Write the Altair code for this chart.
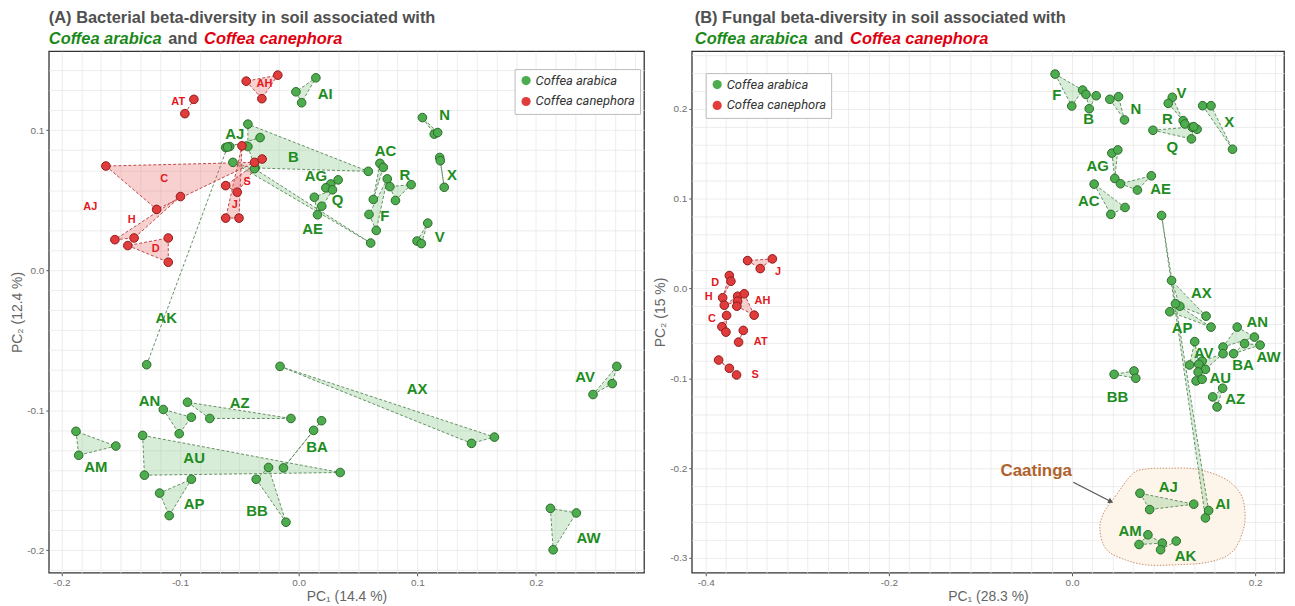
import altair as alt
import pandas as pd

FONT = "Liberation Sans, Arial, Helvetica, sans-serif"
LEGFONT = "Liberation Sans Narrow, Roboto, Liberation Sans, sans-serif"
SPECIES = ["Coffea arabica", "Coffea canephora"]
FILL = ["#4dac4d", "#e23b3b"]
EDGE = ["#2b6b2b", "#8c1c1c"]
GREEN_TXT = "#1e8c1e"
RED_TXT = "#e4181c"

# ---------------- Panel A: bacterial beta-diversity ----------------
A_green = {
    "AI": [(0.0145, 0.1374), (-0.0023, 0.1274), (0.0025, 0.1196)],
    "AJ": [(-0.0615, 0.0876), (-0.0581, 0.0883), (-0.0325, 0.0947)],
    "B": [(-0.0428, 0.1043), (0.0587, 0.0706), (-0.0367, 0.0730), (-0.0428, 0.0883)],
    "AK": [(-0.1281, -0.0675), (-0.0600, 0.0880)],
    "AE": [(-0.0554, 0.0770), (-0.0373, 0.0725), (0.0607, 0.0194)],
    "AG": [(0.0243, 0.0592), (0.0271, 0.0616), (0.0333, 0.0645), (0.0229, 0.0588)],
    "Q": [(0.0132, 0.0521), (0.0285, 0.0574), (0.0195, 0.0457), (0.0159, 0.0396)],
    "AC": [(0.0685, 0.0763), (0.0713, 0.0734), (0.0629, 0.0505)],
    "F": [(0.0593, 0.0398), (0.0654, 0.0284), (0.0747, 0.0652)],
    "R": [(0.0769, 0.0597), (0.0948, 0.0611), (0.0816, 0.0498)],
    "N": [(0.1043, 0.1090), (0.1143, 0.0972), (0.1172, 0.0983)],
    "X": [(0.1189, 0.0805), (0.1194, 0.0782), (0.1227, 0.0592)],
    "V": [(0.1088, 0.0336), (0.0998, 0.0208), (0.1034, 0.0190)],
    "AX": [(-0.0157, -0.0687), (0.1457, -0.1237), (0.1650, -0.1192)],
    "AN": [(-0.1141, -0.0995), (-0.0904, -0.1050), (-0.1007, -0.1168)],
    "AZ": [(-0.0937, -0.0943), (-0.0749, -0.1059), (-0.0065, -0.1059)],
    "AM": [(-0.1877, -0.1151), (-0.1541, -0.1256), (-0.1854, -0.1322)],
    "AU": [(-0.1315, -0.1180), (-0.1300, -0.1464), (0.0350, -0.1445)],
    "AP": [(-0.0904, -0.1493), (-0.1172, -0.1592), (-0.1091, -0.1753)],
    "BB": [(-0.0254, -0.1409), (-0.0358, -0.1493), (-0.0107, -0.1800)],
    "BA": [(0.0193, -0.1075), (0.0126, -0.1144), (-0.0128, -0.1412)],
    "AV": [(0.2682, -0.0687), (0.2643, -0.0810), (0.2481, -0.0888)],
    "AW": [(0.2122, -0.1701), (0.2341, -0.1734), (0.2145, -0.1997)],
}
A_red = {
    "AH": [(-0.0442, 0.1350), (-0.0176, 0.1393), (-0.0310, 0.1225)],
    "AT": [(-0.0883, 0.1220), (-0.0959, 0.1118)],
    "C": [(-0.1625, 0.0744), (-0.1197, 0.0434), (-0.0372, 0.0770)],
    "H": [(-0.1549, 0.0218), (-0.1387, 0.0230), (-0.0996, 0.0526)],
    "D": [(-0.1440, 0.0176), (-0.1099, 0.0230), (-0.1099, 0.0057)],
    "J": [(-0.0478, 0.0888), (-0.0615, 0.0372), (-0.0503, 0.0372)],
    "S": [(-0.0615, 0.0604), (-0.0518, 0.0557), (-0.0308, 0.0794)],
}
A_green_labels = {
    "AI": (0.0224, 0.1260), "AJ": (-0.0539, 0.0976), "B": (-0.0044, 0.0805),
    "AG": (0.0145, 0.0670), "Q": (0.0327, 0.0498), "AE": (0.0117, 0.0296),
    "AC": (0.0732, 0.0853), "R": (0.0895, 0.0680), "F": (0.0727, 0.0386),
    "N": (0.1231, 0.1107), "X": (0.1292, 0.0680), "V": (0.1189, 0.0237),
    "AK": (-0.1116, -0.0341), "AN": (-0.1258, -0.0936), "AZ": (-0.0497, -0.0947),
    "AM": (-0.1709, -0.1405), "AU": (-0.0881, -0.1338), "AP": (-0.0881, -0.1670),
    "BB": (-0.0352, -0.1718), "BA": (0.0154, -0.1263), "AX": (0.0998, -0.0848),
    "AV": (0.2414, -0.0763), "AW": (0.2444, -0.1914),
}
A_red_labels = {
    "AH": (-0.0288, 0.1327), "AT": (-0.1015, 0.1201), "C": (-0.1133, 0.0654),
    "AJ": (-0.1756, 0.0450), "H": (-0.1407, 0.0355), "D": (-0.1206, 0.0154),
    "S": (-0.0434, 0.0628), "J": (-0.0539, 0.0462),
}

# ---------------- Panel B: fungal beta-diversity ----------------
B_green = {
    "F": [(-0.0185, 0.2389), (-0.0003, 0.2033), (0.0116, 0.2211)],
    "B": [(0.0152, 0.2163), (0.0264, 0.2148), (0.0188, 0.2003)],
    "N": [(0.0413, 0.2108), (0.0508, 0.2137), (0.0573, 0.1878)],
    "V": [(0.1095, 0.2130), (0.1051, 0.2063), (0.1214, 0.1870)],
    "R": [(0.1232, 0.1833), (0.1312, 0.1797), (0.1366, 0.1774)],
    "Q": [(0.0884, 0.1763), (0.1304, 0.1667), (0.1329, 0.1803)],
    "X": [(0.1427, 0.2037), (0.1518, 0.2037), (0.1753, 0.1552)],
    "AG": [(0.0435, 0.1508), (0.0500, 0.1544), (0.0467, 0.1226)],
    "AE": [(0.0529, 0.1167), (0.0714, 0.1097), (0.0866, 0.1256)],
    "AC": [(0.0242, 0.1163), (0.0424, 0.0826), (0.0579, 0.0903)],
    "AI": [(0.0978, 0.0814), (0.1457, -0.2556), (0.1492, -0.2474)],
    "AX": [(0.1087, 0.0089), (0.1177, -0.0197), (0.1464, -0.0308)],
    "AP": [(0.1130, -0.0170), (0.1068, -0.0259), (0.1518, -0.0430)],
    "AN": [(0.1804, -0.0430), (0.1992, -0.0541), (0.1649, -0.0652)],
    "AW": [(0.2054, -0.0630), (0.1884, -0.0614), (0.1764, -0.0726)],
    "BA": [(0.1649, -0.0726), (0.1421, -0.0808), (0.1457, -0.0900)],
    "AV": [(0.1340, -0.0592), (0.1384, -0.0844), (0.1283, -0.0852)],
    "AU": [(0.1377, -0.0930), (0.1355, -0.1030), (0.1421, -0.1011)],
    "AZ": [(0.1645, -0.1111), (0.1536, -0.1208), (0.1584, -0.1319)],
    "BB": [(0.0460, -0.0956), (0.0677, -0.0919), (0.0696, -0.1000)],
    "AJ": [(0.0742, -0.2281), (0.0848, -0.2463), (0.1329, -0.2403)],
    "AM": [(0.0829, -0.2744), (0.0732, -0.2852), (0.0986, -0.2837)],
    "AK": [(0.0967, -0.2911), (0.1138, -0.2814)],
}
B_red = {
    "J": [(-0.3543, 0.0311), (-0.3272, 0.0330), (-0.3405, 0.0222)],
    "D": [(-0.3742, 0.0144), (-0.3725, 0.0081), (-0.3815, -0.0103)],
    "H": [(-0.3797, -0.0186), (-0.3652, -0.0086), (-0.3652, -0.0141)],
    "AH": [(-0.3660, -0.0197), (-0.3579, -0.0059), (-0.3471, -0.0297)],
    "C": [(-0.3772, -0.0300), (-0.3823, -0.0426), (-0.3779, -0.0486)],
    "AT": [(-0.3590, -0.0467), (-0.3641, -0.0597)],
    "S": [(-0.3859, -0.0797), (-0.3742, -0.0889), (-0.3663, -0.0963)],
}
B_green_labels = {
    "F": (-0.0166, 0.2156), "B": (0.0182, 0.1886), "N": (0.0696, 0.2000),
    "V": (0.1196, 0.2181), "R": (0.1040, 0.1886), "Q": (0.1095, 0.1581),
    "X": (0.1717, 0.1852), "AG": (0.0279, 0.1370), "AE": (0.0967, 0.1108),
    "AC": (0.0182, 0.0978), "AX": (0.1413, -0.0048), "AP": (0.1203, -0.0444),
    "AN": (0.2022, -0.0374), "AV": (0.1438, -0.0714), "AW": (0.2145, -0.0759),
    "BA": (0.1866, -0.0852), "AU": (0.1620, -0.0992), "AZ": (0.1783, -0.1233),
    "BB": (0.0497, -0.1208), "AJ": (0.1051, -0.2214), "AI": (0.1645, -0.2400),
    "AM": (0.0634, -0.2697), "AK": (0.1239, -0.2986),
}
B_red_labels = {
    "J": (-0.3210, 0.0186), "D": (-0.3895, 0.0063), "H": (-0.3967, -0.0092),
    "AH": (-0.3380, -0.0141), "C": (-0.3932, -0.0344), "AT": (-0.3399, -0.0592),
    "S": (-0.3460, -0.0967),
}
caatinga_outline = [
    (0.0660, -0.2067), (0.0478, -0.2308), (0.0351, -0.2492), (0.0304, -0.2678),
    (0.0370, -0.2900), (0.0551, -0.3011), (0.0804, -0.3078), (0.1130, -0.3078),
    (0.1492, -0.3048), (0.1747, -0.2937), (0.1873, -0.2678), (0.1884, -0.2437),
    (0.1818, -0.2252), (0.1638, -0.2103), (0.1348, -0.2011), (0.1058, -0.2003),
    (0.0804, -0.2011),
]
caatinga_label = (-0.0391, -0.2030)
caatinga_arrow = [(0.0014, -0.2159), (0.0424, -0.2374)]


def hull(pts):
    pts = sorted(set(pts))
    if len(pts) <= 2:
        return pts

    def cross(o, a, b):
        return (a[0] - o[0]) * (b[1] - o[1]) - (a[1] - o[1]) * (b[0] - o[0])

    lower, upper = [], []
    for p in pts:
        while len(lower) >= 2 and cross(lower[-2], lower[-1], p) <= 0:
            lower.pop()
        lower.append(p)
    for p in reversed(pts):
        while len(upper) >= 2 and cross(upper[-2], upper[-1], p) <= 0:
            upper.pop()
        upper.append(p)
    return lower[:-1] + upper[:-1]


def frames(green, red):
    prow, hrow = [], []
    for sp, groups in ((SPECIES[0], green), (SPECIES[1], red)):
        for g, pts in groups.items():
            for x, y in pts:
                prow.append(dict(sp=sp, grp=g, x=x, y=y))
            h = hull(pts)
            ring = h + [h[0]] if len(h) > 2 else h
            for i, (x, y) in enumerate(ring):
                hrow.append(dict(sp=sp, key=sp + g, i=i, x=x, y=y))
    return pd.DataFrame(prow), pd.DataFrame(hrow)


def lab_frame(d):
    return pd.DataFrame([dict(t=k, x=v[0], y=v[1]) for k, v in d.items()])


MAJOR = "abs(datum.value*10 - round(datum.value*10)) < 0.001"


def make_axis(values, title, orient):
    return alt.Axis(
        values=values, title=title, orient=orient, grid=True,
        gridColor="#e8e8e8", gridWidth=0.8, domain=False,
        labelExpr=MAJOR + " ? (datum.value < -0.0001 ? '-' : '') + format(abs(datum.value), '.1f') : ''",
        tickOpacity={"condition": {"test": MAJOR, "value": 1}, "value": 0},
        tickSize=3, tickColor="#555", labelColor="#6e6e6e", labelFontSize=10,
        labelOverlap=False, labelFlush=False, labelPadding=2,
        titleFontSize=14, titleColor="#666", titleFontWeight="normal",
        titlePadding=2, labelFont=FONT, titleFont=FONT,
    )


def panel(green, red, glab, rlab, xdom, ydom, xgrid, ygrid, xtitle, ytitle,
          heading, w, h, lx, ly, tx, extras=None):
    pts, hul = frames(green, red)
    X = alt.X("x:Q", scale=alt.Scale(domain=xdom, nice=False, zero=False),
              axis=make_axis(xgrid, xtitle, "bottom"))
    Y = alt.Y("y:Q", scale=alt.Scale(domain=ydom, nice=False, zero=False),
              axis=make_axis(ygrid, ytitle, "left"))
    layers = []
    if extras is not None:
        layers += extras(X, Y)
    layers.append(
        alt.Chart(hul[hul.sp == SPECIES[0]]).mark_line(
            fill="#7cc47c", fillOpacity=0.3, stroke="#648f64", strokeWidth=1,
            strokeDash=[3, 2]).encode(x=X, y=Y, detail="key:N", order="i:Q"))
    layers.append(
        alt.Chart(hul[hul.sp == SPECIES[1]]).mark_line(
            fill="#e86262", fillOpacity=0.3, stroke="#c04848", strokeWidth=1,
            strokeDash=[3, 2]).encode(x=X, y=Y, detail="key:N", order="i:Q"))
    layers.append(
        alt.Chart(pts).mark_point(filled=True, shape="circle", size=75,
                                  strokeWidth=1, opacity=1).encode(
            x=X, y=Y,
            fill=alt.Fill("sp:N", scale=alt.Scale(domain=SPECIES, range=FILL),
                          legend=alt.Legend(
                              orient="none", legendX=lx, legendY=ly, title=None,
                              direction="vertical", strokeColor="#bbbbbb",
                              fillColor="white", padding=5, symbolType="circle",
                              symbolSize=85, symbolStrokeWidth=0,
                              labelFont=LEGFONT, labelFontStyle="italic",
                              labelFontSize=13, labelColor="#333",
                              rowPadding=7, labelOffset=3)),
            stroke=alt.Stroke("sp:N", scale=alt.Scale(domain=SPECIES, range=EDGE),
                              legend=None)))
    layers.append(
        alt.Chart(lab_frame(glab)).mark_text(
            font=FONT, fontSize=15, fontWeight="bold", color=GREEN_TXT).encode(
            x=X, y=Y, text="t:N"))
    layers.append(
        alt.Chart(lab_frame(rlab)).mark_text(
            font=FONT, fontSize=11, fontWeight="bold", color=RED_TXT).encode(
            x=X, y=Y, text="t:N"))
    # headings
    pieces = [
        (heading, tx, -28, "#505050", "normal"),
        ("Coffea arabica", tx, -7, "#1a8a1a", "italic"),
        ("and", tx + 120, -7, "#505050", "normal"),
        ("Coffea canephora", tx + 156, -7, "#e0000f", "italic"),
    ]
    for t, px, py, col, style in pieces:
        layers.append(
            alt.Chart(pd.DataFrame({"t": [t]})).mark_text(
                font=FONT, fontSize=16.5, fontWeight="bold", fontStyle=style,
                color=col, align="left", baseline="alphabetic").encode(
                x=alt.value(px), y=alt.value(py), text="t:N"))
    return alt.layer(*layers).properties(width=w, height=h)


def caatinga(X, Y):
    blob = pd.DataFrame([dict(i=i, x=x, y=y) for i, (x, y) in enumerate(caatinga_outline)])
    arrow = pd.DataFrame([dict(i=i, x=x, y=y) for i, (x, y) in enumerate(caatinga_arrow)])
    head = arrow.iloc[[-1]]
    lab = pd.DataFrame([dict(t="Caatinga", x=caatinga_label[0], y=caatinga_label[1])])
    return [
        alt.Chart(blob).mark_line(interpolate="cardinal-closed", fill="#fdf3e8",
                                  fillOpacity=0.9, stroke="#c8906a", strokeWidth=1,
                                  strokeDash=[1.5, 1.5]).encode(x=X, y=Y, order="i:Q"),
        alt.Chart(arrow).mark_line(color="#555555", strokeWidth=1.2).encode(
            x=X, y=Y, order="i:Q"),
        alt.Chart(head).mark_point(shape="triangle-right", filled=True, size=35,
                                   angle=27, color="#555555", opacity=1).encode(x=X, y=Y),
        alt.Chart(lab).mark_text(font=FONT, fontSize=17, fontWeight="bold",
                                 color="#b0622c").encode(x=X, y=Y, text="t:N"),
    ]


A_xgrid = [k / 60 for k in range(-12, 18)]
A_ygrid = [k / 70 for k in range(-15, 11)]
B_xgrid = [k * 0.2 / 9 for k in range(-18, 11)]
B_ygrid = [k / 50 for k in range(-15, 14)]

chartA = panel(A_green, A_red, A_green_labels, A_red_labels,
               [-0.2106, 0.2911], [-0.2161, 0.1564], A_xgrid, A_ygrid,
               "PC\u2081 (14.4 %)", "PC\u2082 (12.4 %)",
               "(A) Bacterial beta-diversity in soil associated with",
               598, 524, 468, 18, 0)
chartB = panel(B_green, B_red, B_green_labels, B_red_labels,
               [-0.4152, 0.2315], [-0.3167, 0.2644], B_xgrid, B_ygrid,
               "PC\u2081 (28.3 %)", "PC\u2082 (15 %)",
               "(B) Fungal beta-diversity in soil associated with",
               595, 524, 14, 22, 3, extras=caatinga)

chart = alt.hconcat(chartA, chartB, spacing=8).resolve_scale(
    x="independent", y="independent", fill="independent", stroke="independent"
).resolve_legend(fill="independent", stroke="independent").properties(
    padding={"left": 2, "top": 0, "right": 2, "bottom": 2},
    background="white",
).configure_view(stroke="#333333", strokeWidth=1.3)

chart.save("out.html", embed_options={"renderer": "svg", "actions": False})
